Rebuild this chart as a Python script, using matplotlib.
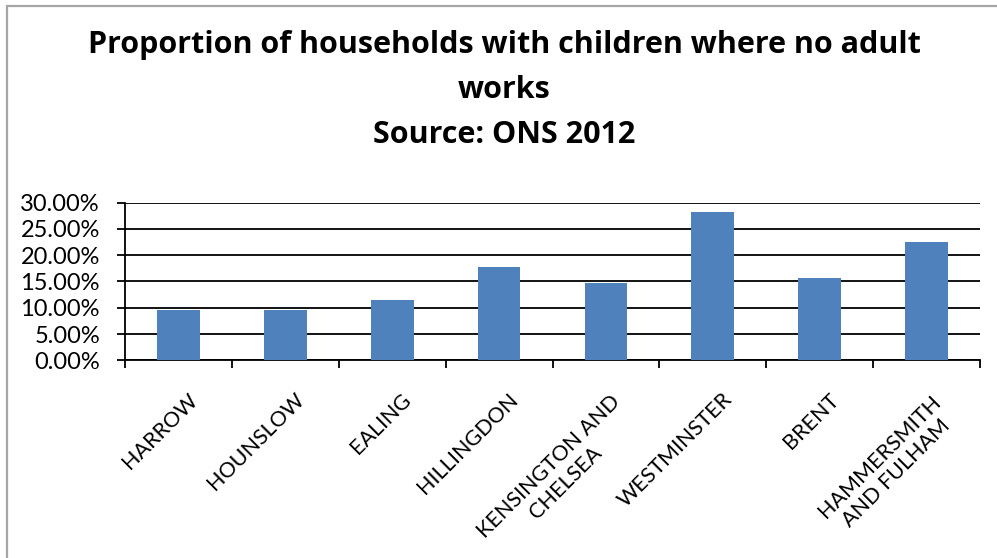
import matplotlib.pyplot as plt
import matplotlib.transforms as mtransforms
from matplotlib.patches import Rectangle
import numpy as np

# Daten
boroughs = ["HARROW", "HOUNSLOW", "EALING", "HILLINGDON",
            "KENSINGTON AND\nCHELSEA", "WESTMINSTER", "BRENT",
            "HAMMERSMITH\nAND FULHAM"]
share = [0.0956, 0.0956, 0.1146, 0.1773, 0.1475, 0.2822, 0.1563, 0.2247]
yticks = [0.0, 0.05, 0.10, 0.15, 0.20, 0.25, 0.30]

W, H = 997, 558
plt.rcParams["font.family"] = "Lato"

fig = plt.figure(figsize=(W / 100, H / 100), dpi=100)
fig.patch.set_facecolor("white")

# grauer Rahmen (Excel-Diagrammbereich)
fig.add_artist(Rectangle((7 / W, -0.1), 1.2, 1.1 - 6 / H,
                         transform=fig.transFigure, fill=False,
                         edgecolor="#a6a6a6", linewidth=1.6))

# Titel
titel = ["Proportion of households with children where no adult",
         "works", "Source: ONS 2012"]
for i, t in enumerate(titel):
    fig.text(504 / W, 1 - (53 + 45 * i) / H, t, ha="center",
             va="baseline", fontsize=22, fontweight="bold",
             family="Open Sans")

# Plotbereich
ax = fig.add_axes([125 / W, (H - 360.3) / H, 855 / W, 157.6 / H])
x = np.arange(len(boroughs))
ax.bar(x, share, width=0.4, color="#4f81bd", zorder=3)

ax.set_xlim(-0.5, len(boroughs) - 0.5)
ax.set_ylim(0, 0.30)
ax.set_yticks(yticks)
ax.set_yticklabels([f"{v * 100:.2f}%" for v in yticks], fontsize=17)
ax.yaxis.grid(True, color="black", linewidth=1.3, zorder=0)
ax.tick_params(axis="y", direction="out", length=6, width=1.3, pad=12)

# Ticks an den Kategoriegrenzen
ax.set_xticks(np.arange(-0.5, len(boroughs)), minor=True)
ax.tick_params(axis="x", which="minor", direction="out", length=6,
               width=1.3)
ax.set_xticks(x)
ax.set_xticklabels(boroughs, rotation=45, ha="right", va="top",
                   rotation_mode="anchor", fontsize=15.5,
                   multialignment="center", linespacing=1.2)
ax.tick_params(axis="x", which="major", length=0, pad=21)
for lab in ax.get_xticklabels():
    if "\n" in lab.get_text():
        dx, dy = 4, -2
    else:
        dx, dy = 9, 0
    verschub = mtransforms.ScaledTranslation(dx / 100, dy / 100,
                                             fig.dpi_scale_trans)
    lab.set_transform(lab.get_transform() + verschub)

for s in ["top", "right"]:
    ax.spines[s].set_visible(False)
for s in ["left", "bottom"]:
    ax.spines[s].set_linewidth(1.3)

fig.savefig("out.png", dpi=100)
